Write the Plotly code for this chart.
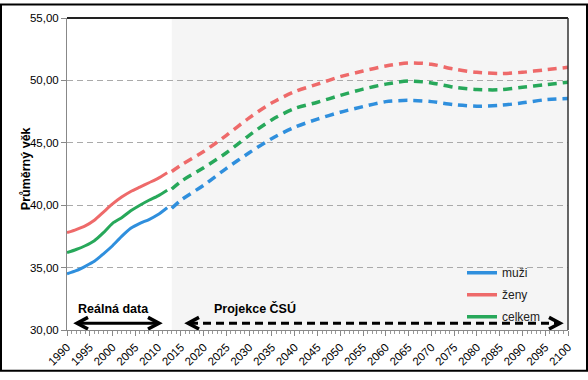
import plotly.graph_objects as go

# ---- data ----
years_real = [1990, 1992, 1994, 1996, 1998, 2000, 2002, 2004, 2006, 2008, 2010, 2012]
muzi_real = [34.5, 34.75, 35.1, 35.5, 36.1, 36.75, 37.5, 38.15, 38.55, 38.85, 39.25, 39.8]
zeny_real = [37.8, 38.05, 38.35, 38.8, 39.45, 40.1, 40.65, 41.1, 41.45, 41.8, 42.15, 42.6]
celkem_real = [36.2, 36.45, 36.75, 37.15, 37.8, 38.55, 39.0, 39.55, 40.0, 40.4, 40.75, 41.2]

years_proj = [2013, 2015, 2020, 2025, 2030, 2035, 2040, 2045, 2050, 2055,
              2060, 2065, 2070, 2075, 2080, 2085, 2090, 2095, 2100]
muzi_proj = [39.75, 40.4, 41.6, 42.95, 44.2, 45.35, 46.25, 46.9, 47.45, 47.9,
             48.3, 48.4, 48.3, 48.05, 47.93, 48.0, 48.2, 48.45, 48.55]
zeny_proj = [42.7, 43.2, 44.3, 45.6, 47.0, 48.2, 49.1, 49.7, 50.3, 50.75,
             51.15, 51.4, 51.3, 50.9, 50.65, 50.55, 50.65, 50.85, 51.05]
celkem_proj = [41.3, 41.9, 43.0, 44.2, 45.6, 46.85, 47.75, 48.25, 48.8, 49.3,
               49.7, 49.95, 49.8, 49.45, 49.27, 49.25, 49.45, 49.65, 49.85]

series_names = ["muži", "ženy", "celkem"]
colors = {"muži": "#2f8fdd", "ženy": "#ee6a6a", "celkem": "#27a85a"}

x_ticks = list(range(1990, 2101, 5))
y_ticks = [30, 35, 40, 45, 50, 55]

# ---- layout geometry ----
W, H = 588, 380
L, R, T, B = 67, 20, 15, 43
PW, PH = W - L - R, H - T - B
X0, X1 = 1990, 2100
Y0, Y1 = 30, 55


def px2x(px):
    return X0 + (px - L) / PW * (X1 - X0)


def py2y(py):
    return Y1 - (py - T) / PH * (Y1 - Y0)


def px2paper(px):
    return (px - L) / PW


def py2paper(py):
    return (H - B - py) / PH


fig = go.Figure()

real = {"muži": muzi_real, "ženy": zeny_real, "celkem": celkem_real}
proj = {"muži": muzi_proj, "ženy": zeny_proj, "celkem": celkem_proj}

for name in series_names:
    fig.add_trace(go.Scatter(x=years_real, y=real[name], mode="lines",
                             line=dict(color=colors[name], width=3, shape="spline", smoothing=0.6),
                             showlegend=False, hoverinfo="skip"))
    fig.add_trace(go.Scatter(x=years_proj, y=proj[name], mode="lines",
                             line=dict(color=colors[name], width=3.5, dash="9px,6px",
                                       shape="spline", smoothing=0.8),
                             showlegend=False, hoverinfo="skip"))

for name in series_names:
    fig.add_trace(go.Scatter(x=[None], y=[None], mode="lines", name=name,
                             legendgroup=name,
                             line=dict(color=colors[name], width=3.5)))

shapes = []
# projection shading
shapes.append(dict(type="rect", xref="x", yref="paper", x0=2013, x1=2100, y0=0, y1=1,
                   fillcolor="#f5f5f5", line=dict(width=0), layer="below"))
# top and right frame
shapes.append(dict(type="line", xref="paper", yref="paper", x0=0, x1=1, y0=1, y1=1,
                   line=dict(color="#222222", width=2)))
shapes.append(dict(type="line", xref="paper", yref="paper", x0=1, x1=1, y0=0, y1=1,
                   line=dict(color="#333333", width=1.5)))
# outer border
shapes.append(dict(type="rect", xref="paper", yref="paper",
                   x0=px2paper(1), x1=px2paper(587), y0=py2paper(379), y1=py2paper(1),
                   line=dict(color="black", width=2)))


def arrow(px_a, px_b, py, dash):
    ya = py2y(py)
    shapes.append(dict(type="line", xref="x", yref="y", x0=px2x(px_a + 2), x1=px2x(px_b - 2),
                       y0=ya, y1=ya, line=dict(color="black", width=3, dash=dash)))
    hw, hh = 11, 6
    pl = "M {},{} L {},{} L {},{}".format(px2x(px_a + hw), py2y(py - hh), px2x(px_a), ya,
                                          px2x(px_a + hw), py2y(py + hh))
    pr = "M {},{} L {},{} L {},{}".format(px2x(px_b - hw), py2y(py - hh), px2x(px_b), ya,
                                          px2x(px_b - hw), py2y(py + hh))
    for p in (pl, pr):
        shapes.append(dict(type="path", xref="x", yref="y", path=p,
                           line=dict(color="black", width=3.5)))


arrow(77, 159, 330, "solid")
arrow(188, 560, 330, "8px,5px")

annotations = [
    dict(text="<b>Reálná data</b>", x=px2x(113), y=py2y(315), xref="x", yref="y",
         showarrow=False, font=dict(size=12.5, color="black")),
    dict(text="<b>Projekce ČSÚ</b>", x=px2x(255), y=py2y(315), xref="x", yref="y",
         showarrow=False, font=dict(size=12.5, color="black")),
    dict(text="<b>Průměrný věk</b>", x=px2paper(17), y=py2paper(171), xref="paper", yref="paper",
         showarrow=False, textangle=-90, font=dict(size=12.5, color="black")),
]

fig.update_layout(
    width=W, height=H,
    margin=dict(l=L, r=R, t=T, b=B, pad=0),
    paper_bgcolor="white", plot_bgcolor="white",
    font=dict(family="Liberation Sans, Arial, sans-serif", size=11, color="black"),
    separators=", ",
    shapes=shapes,
    annotations=annotations,
    legend=dict(x=px2paper(462), y=py2paper(263), xanchor="left", yanchor="top",
                bgcolor="rgba(0,0,0,0)", font=dict(size=12, color="#222222"),
                tracegroupgap=3, itemwidth=30),
    xaxis=dict(range=[X0, X1], tickmode="array", tickvals=x_ticks,
               ticktext=[str(v) for v in x_ticks], tickangle=-45,
               showgrid=False, zeroline=False, showline=True, linecolor="#888888", linewidth=1,
               ticks="outside", ticklen=5, tickcolor="#888888",
               minor=dict(ticks="outside", dtick=1, tick0=1990, ticklen=3, tickcolor="#999999"),
               tickfont=dict(size=11.5)),
    yaxis=dict(range=[Y0, Y1], tickmode="array", tickvals=y_ticks, tickformat=".2f",
               showgrid=True, gridcolor="#aaaaaa", griddash="6px,4px", gridwidth=1,
               zeroline=False, showline=True, linecolor="#888888", linewidth=1,
               ticks="outside", ticklen=5, tickcolor="#888888",
               tickfont=dict(size=11.5)),
)

fig.write_html("out.html",
               config={"displayModeBar": False, "staticPlot": True},
               post_script="document.body.style.margin='0';document.body.style.padding='0';"
                           "document.body.style.overflow='hidden';")
